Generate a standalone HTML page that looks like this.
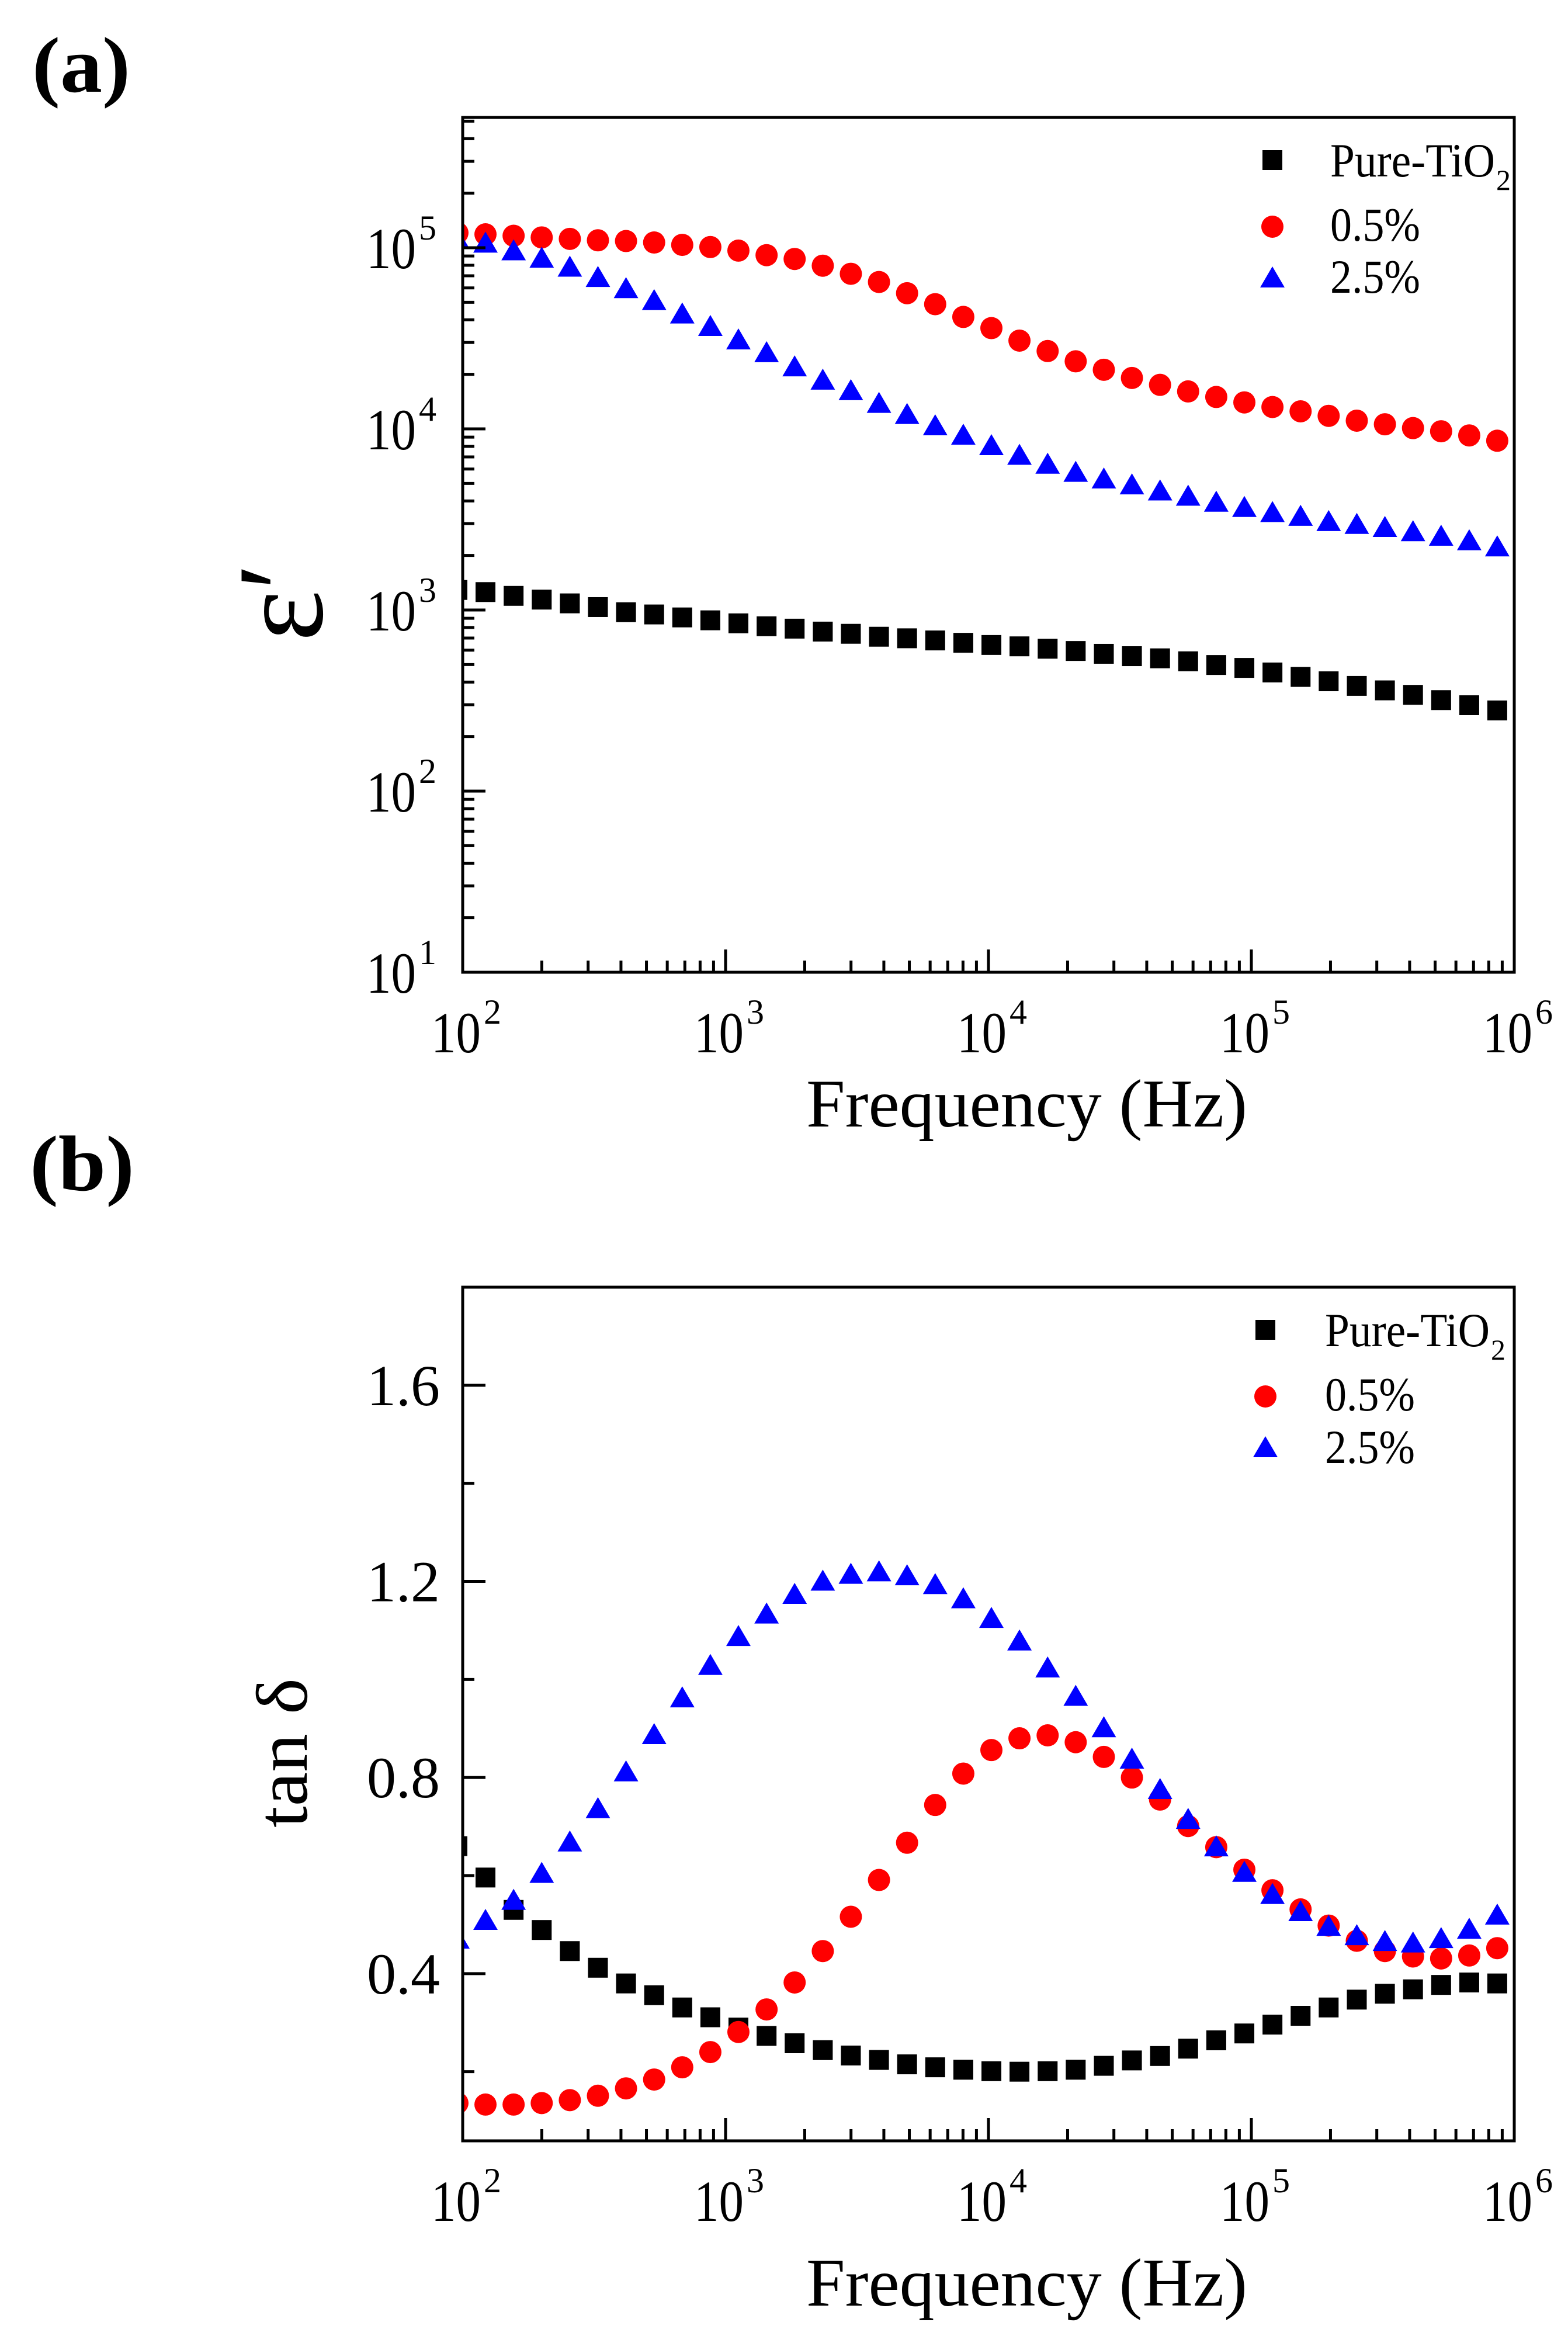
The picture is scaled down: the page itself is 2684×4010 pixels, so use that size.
<!DOCTYPE html>
<html><head><meta charset="utf-8"><style>
html,body{margin:0;padding:0;background:#fff;}
svg{display:block;font-family:"Liberation Serif",serif;}
</style></head><body>
<svg id="fig" width="2684" height="4010" viewBox="0 0 2684 4010" xmlns="http://www.w3.org/2000/svg">
<defs>
<clipPath id="clipA"><rect x="792" y="201" width="1800" height="1463"/></clipPath>
<clipPath id="clipB"><rect x="792" y="2203" width="1800" height="1461"/></clipPath>
</defs>
<rect width="2684" height="4010" fill="#fff"/>
<text x="55" y="157" font-size="135" font-weight="bold" textLength="168" lengthAdjust="spacingAndGlyphs">(a)</text>
<text x="51" y="2037" font-size="135" font-weight="bold" textLength="179" lengthAdjust="spacingAndGlyphs">(b)</text>
<g id="gA"></g>
<g id="gB"></g>
</svg>
<script>
const freq = [95.5,122.1,156.2,199.8,255.6,326.9,418.1,534.9,684.1,875.1,1119,1432,1831,2343,2996,3833,4902,6271,8022,10260,13120,16790,21470,27470,35130,44940,57480,73530,94060,120300,153900,196800,251800,322100,412000,527000,674100,861600];
const epsPure = [1290,1256,1197,1141,1088,1038,972,945,910,877,844,813,789,760,739,712,698,679,659,641,630,611,594,573,556,541,521,497,479,452,427,404,381,360,340,318,298,279];
const eps05 = [120800,118600,116400,114000,111900,109900,108900,106900,103700,100900,96400,91000,86700,79600,71800,64700,56100,48800,41500,36000,30700,26900,23600,21200,19100,17500,16100,15000,14000,13200,12500,11800,11100,10600,10100,9700,9200,8600];
const eps25 = [110000,105000,95300,86700,77400,67900,58900,50600,42700,36400,30700,26100,21800,18400,16100,13700,11900,10300,9140,8000,7080,6320,5700,5240,4860,4500,4210,3900,3650,3420,3260,3050,2940,2830,2680,2530,2390,2210];
const tanPure = [0.660,0.596,0.530,0.489,0.446,0.412,0.380,0.356,0.331,0.311,0.290,0.273,0.258,0.244,0.233,0.224,0.215,0.209,0.204,0.201,0.200,0.201,0.204,0.212,0.223,0.232,0.247,0.264,0.278,0.296,0.314,0.331,0.347,0.359,0.368,0.377,0.382,0.380];
const tan05 = [0.136,0.133,0.133,0.136,0.142,0.151,0.166,0.184,0.209,0.240,0.281,0.327,0.382,0.446,0.516,0.591,0.667,0.744,0.808,0.856,0.880,0.886,0.872,0.842,0.800,0.755,0.701,0.658,0.612,0.570,0.531,0.498,0.467,0.446,0.435,0.431,0.437,0.452];
const tan25 = [0.469,0.507,0.548,0.603,0.667,0.735,0.810,0.886,0.961,1.027,1.086,1.132,1.172,1.199,1.213,1.218,1.210,1.192,1.163,1.123,1.077,1.022,0.964,0.900,0.836,0.774,0.713,0.657,0.605,0.560,0.525,0.495,0.476,0.464,0.461,0.470,0.489,0.518];
const xDecades = [2,3,4,5,6];
const yDecadesA = [1,2,3,4,5];
const yTicksB = [0.4,0.8,1.2,1.6];
const yMinorB = [0.2,0.6,1.0,1.4];
const seriesNames = ["Pure-TiO","0.5%","2.5%"];

const NS="http://www.w3.org/2000/svg";
function mk(tag,attrs,parent,txt){const e=document.createElementNS(NS,tag);for(const k in attrs)e.setAttribute(k,attrs[k]);if(txt!==undefined)e.textContent=txt;parent.appendChild(e);return e;}
const X0=792,X1=2592;
function xA(f){return X0+(Math.log10(f)-2)*(X1-X0)/4;}
const A_T=201,A_B=1664;
function yA(v){return A_B-(Math.log10(v)-1)*310;}
const B_T=2203,B_B=3664,BMIN=0.059,BMAX=1.80;
function yB(v){return B_B-(v-BMIN)/(BMAX-BMIN)*(B_B-B_T);}

function marker(kind,cx,cy,parent,name){
  let e;
  if(kind===0){e=mk('rect',{x:cx-17,y:cy-17,width:34,height:34,fill:'#000'},parent);}
  else if(kind===1){e=mk('circle',{cx:cx,cy:cy,r:19,fill:'#ff0000'},parent);}
  else {e=mk('polygon',{points:(cx-21)+','+(cy+15)+' '+(cx+21)+','+(cy+15)+' '+cx+','+(cy-21),fill:'#0000ff'},parent);}
  
  
  return e;
}

function frame(g,top,bot){
  const r=mk('rect',{x:X0,y:top,width:X1-X0,height:bot-top,fill:'none',stroke:'#000','stroke-width':5},g);
  
  
  xDecades.forEach((d,i)=>{
    const x=xA(Math.pow(10,d));
    const t=mk('line',{x1:x,y1:bot,x2:x,y2:bot-39,stroke:'#000','stroke-width':5},g);
    
    
    if(i<xDecades.length-1){
      for(let m=2;m<=9;m++){
        const xm=xA(m*Math.pow(10,d));
        const tm=mk('line',{x1:xm,y1:bot,x2:xm,y2:bot-20,stroke:'#000','stroke-width':5},g);
        
        
      }
    }
    const lb=mk('text',{x:x-54,y:bot+137,'font-size':100,textLength:85,lengthAdjust:'spacingAndGlyphs'},g,'10');
    
    
    mk('text',{x:x+36,y:bot+88,'font-size':60},lb.parentNode,String(d));
  });
  const xt=mk('text',{x:1380,y:(top<1000?1928:3946),'font-size':117,textLength:755,lengthAdjust:'spacingAndGlyphs'},g,'Frequency (Hz)');
  
  
}

function legend(g,lx,tx,ys,tys){
  for(let k=0;k<3;k++){
    marker(k,lx,ys[k],g,'legend-marker');
    const t=mk('text',{x:tx,y:tys[k],'font-size':82},g,seriesNames[k]);
    
    
    if(k===0){t.setAttribute('textLength',282);t.setAttribute('lengthAdjust','spacingAndGlyphs');
      mk('text',{x:tx+284,y:tys[k]+23,'font-size':50},g,'2');}
    else {t.setAttribute('textLength',154);t.setAttribute('lengthAdjust','spacingAndGlyphs');}
  }
}

// Chart A
const gA=document.getElementById('gA');
const pA=mk('g',{'clip-path':'url(#clipA)'},gA);
[epsPure,eps05,eps25].forEach((arr,k)=>{
  arr.forEach((v,i)=>marker(k,xA(freq[i]),yA(v),pA,['point-pure-tio2','point-0.5pct','point-2.5pct'][k]));
});
frame(gA,A_T,A_B);
yDecadesA.forEach(d=>{
  const y=yA(Math.pow(10,d));
  const t=mk('line',{x1:X0,y1:y,x2:X0+39,y2:y,stroke:'#000','stroke-width':5},gA);
  
  
  const lb=mk('text',{x:627,y:y+35,'font-size':100,textLength:85,lengthAdjust:'spacingAndGlyphs'},gA,'10');
  
  
  mk('text',{x:717,y:y-14,'font-size':60},gA,String(d));
});
for(let d=1;d<=5;d++){for(let m=2;m<=9;m++){
  const v=m*Math.pow(10,d); const y=yA(v); if(y<A_T+3)continue;
  const t=mk('line',{x1:X0,y1:y,x2:X0+20,y2:y,stroke:'#000','stroke-width':5},gA);
  
  
}}
const ytA=mk('text',{transform:'translate(551,1098) rotate(-90)','font-size':210},gA,'ε′');


legend(gA,2178,2277,[274,388,477],[302,412,501]);

// Chart B
const gB=document.getElementById('gB');
const pB=mk('g',{'clip-path':'url(#clipB)'},gB);
[tanPure,tan05,tan25].forEach((arr,k)=>{
  arr.forEach((v,i)=>marker(k,xA(freq[i]),yB(v),pB,['point-pure-tio2','point-0.5pct','point-2.5pct'][k]));
});
frame(gB,B_T,B_B);
yTicksB.forEach(v=>{
  const y=yB(v);
  const t=mk('line',{x1:X0,y1:y,x2:X0+39,y2:y,stroke:'#000','stroke-width':5},gB);
  
  
  const lb=mk('text',{x:753,y:y+34,'font-size':100,'text-anchor':'end'},gB,v.toFixed(1));
  
  
});
yMinorB.forEach(v=>{
  const y=yB(v);
  const t=mk('line',{x1:X0,y1:y,x2:X0+20,y2:y,stroke:'#000','stroke-width':5},gB);
  
  
});
const ytB=mk('text',{transform:'translate(525,3128) rotate(-90)','font-size':125,textLength:256,lengthAdjust:'spacingAndGlyphs'},gB,'tan δ');


legend(gB,2166,2268,[2276,2390,2479],[2304,2414,2504]);
</script>
</body></html>
